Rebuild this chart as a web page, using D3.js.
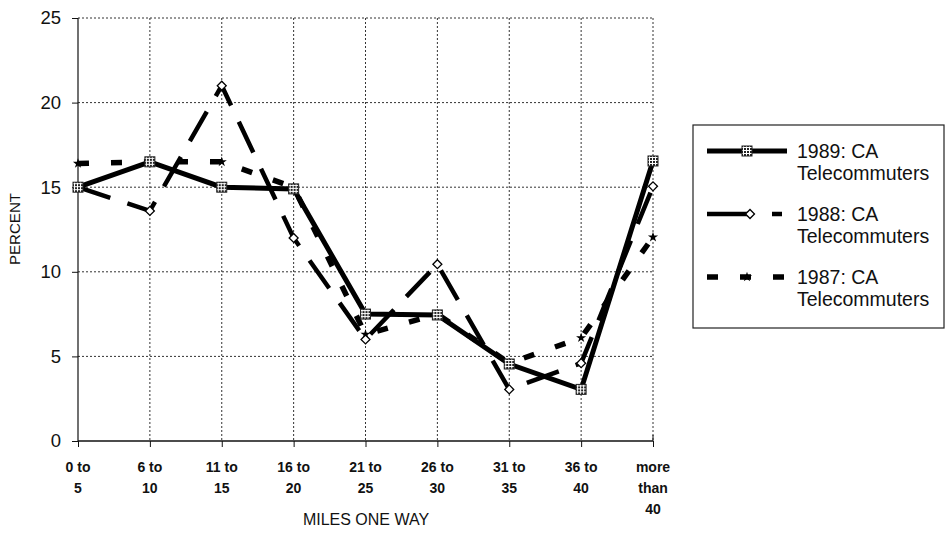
<!DOCTYPE html>
<html><head><meta charset="utf-8">
<script src="https://cdn.jsdelivr.net/npm/d3@7/dist/d3.min.js"></script>
<style>body{margin:0;background:#fff;}svg{display:block;}</style>
</head><body>
<svg id="c" width="947" height="540"></svg>
<script>
const categories = [["0 to","5"],["6 to","10"],["11 to","15"],["16 to","20"],["21 to","25"],["26 to","30"],["31 to","35"],["36 to","40"],["more","than","40"]];
const s1989 = [15, 16.5, 15, 14.9, 7.5, 7.45, 4.55, 3.05, 16.55];
const s1988 = [15, 13.6, 21, 12, 6, 10.45, 3.05, 4.6, 15.05];
const s1987 = [16.4, 16.5, 16.5, 15, 6.3, 7.5, 4.6, 6.1, 12.05];
const yTicks = [0, 5, 10, 15, 20, 25];
const seriesNames = ["1989: CA", "1988: CA", "1987: CA"];

const svg = d3.select("#c");
const defs = svg.append("defs");
const pat = defs.append("pattern").attr("id","hatch").attr("width",3).attr("height",3).attr("patternUnits","userSpaceOnUse");
pat.append("rect").attr("width",3).attr("height",3).attr("fill","#fff");
pat.append("rect").attr("width",2).attr("height",2).attr("fill","#222");

const idx = categories.map((d,i)=>i);
const x = d3.scalePoint().domain(idx).range([78, 653]);
const y = d3.scaleLinear().domain([0,25]).range([441, 18]);
const font = "Liberation Sans, Arial, sans-serif";

// grid
const g = svg.append("g");
g.selectAll(".hg").data(yTicks.filter(t=>t>0)).join("line")
  .attr("x1",78).attr("x2",653).attr("y1",d=>y(d)).attr("y2",d=>y(d))
  .attr("stroke","#333").attr("stroke-width",1).attr("stroke-dasharray","2,2");
g.selectAll(".vg").data(idx.slice(1)).join("line")
  .attr("x1",d=>x(d)).attr("x2",d=>x(d)).attr("y1",y(25)).attr("y2",y(0))
  .attr("stroke","#333").attr("stroke-width",1).attr("stroke-dasharray","2,2");

// axes
const yAxis = d3.axisLeft(y).tickValues(yTicks).tickSize(6).tickFormat(d3.format("d"));
const ya = svg.append("g").attr("transform","translate(78,0)").call(yAxis);
ya.select(".domain").attr("stroke","#111").attr("stroke-width",1.2).attr("d",`M0,${y(25)}V${y(0)}`);
ya.selectAll(".tick line").attr("stroke","#111");
ya.selectAll(".tick text").attr("font-family",font).attr("font-size",18.5).attr("fill","#111").attr("x",-17);

const xAxis = d3.axisBottom(x).tickSize(6).tickFormat("");
const xa = svg.append("g").attr("transform",`translate(0,${y(0)})`).call(xAxis);
xa.select(".domain").attr("stroke","#111").attr("stroke-width",1.4).attr("d","M78,0H653");
xa.selectAll(".tick line").attr("stroke","#111");
xa.append("line").attr("x1",653).attr("x2",653).attr("y1",-6).attr("y2",0).attr("stroke","#111");

// x labels
const lab = svg.append("g");
categories.forEach((lines,i)=>{
  const t = lab.append("text").attr("x",x(i)).attr("y",472).attr("text-anchor","middle")
    .attr("font-family",font).attr("font-size",14).attr("font-weight","bold").attr("fill","#111");
  lines.forEach((s,j)=>t.append("tspan").attr("x",x(i)).attr("dy",j?21:0).text(s));
});

svg.append("text").attr("x",366).attr("y",525).attr("text-anchor","middle")
  .attr("font-family",font).attr("font-size",16).attr("fill","#111").text("MILES ONE  WAY");
svg.append("text").attr("transform","translate(20,229) rotate(-90)").attr("text-anchor","middle")
  .attr("font-family",font).attr("font-size",15).attr("fill","#111")
  .attr("textLength",72).attr("lengthAdjust","spacingAndGlyphs").text("PERCENT");

// lines
const line = d3.line().x((d,i)=>x(i)).y(d=>y(d));
const styles = [
  {data:s1989, w:5, dash:null, ldash:null},
  {data:s1988, w:4.5, dash:"34,18", ldash:"43,22,10,100"},
  {data:s1987, w:5.5, dash:"11,22", ldash:"11,22"}
];
[2,1,0].forEach(k=>{
  const st = styles[k];
  svg.append("path").datum(st.data).attr("d",line).attr("fill","none")
    .attr("stroke","#000").attr("stroke-width",st.w)
    .attr("stroke-dasharray",st.dash).attr("stroke-linejoin","miter");
});

function marker(sel, k){
  if(k===0){
    sel.append("rect").attr("x",-5).attr("y",-5).attr("width",10).attr("height",10)
      .attr("fill","url(#hatch)").attr("stroke","#222").attr("stroke-width",1);
  } else if(k===1){
    sel.append("path").attr("d",d3.symbol(d3.symbolSquare, 40)())
      .attr("transform","rotate(45)").attr("fill","#fff").attr("stroke","#000").attr("stroke-width",1.3);
  } else {
    sel.append("path").attr("d",d3.symbol(d3.symbolStar, 32)()).attr("fill","#000");
  }
}
[2,1,0].forEach(k=>{
  styles[k].data.forEach((v,i)=>{
    const m = svg.append("g").attr("transform",`translate(${x(i)},${y(v)})`);
    marker(m,k);
  });
});

// legend
const lg = svg.append("g");
lg.append("rect").attr("x",693).attr("y",125).attr("width",251).attr("height",203)
  .attr("fill","#fff").attr("stroke","#222").attr("stroke-width",1.2);
const rowY = [151, 214, 277];
seriesNames.forEach((nm,k)=>{
  const st = styles[k];
  lg.append("line").attr("x1",707).attr("x2",787).attr("y1",rowY[k]).attr("y2",rowY[k])
    .attr("stroke","#000").attr("stroke-width",st.w).attr("stroke-dasharray",st.ldash);
  marker(lg.append("g").attr("transform",`translate(${k===1?750:747},${rowY[k]})`),k);
  const t = lg.append("text").attr("x",797).attr("y",rowY[k]+7).attr("font-family",font)
    .attr("font-size",19.5).attr("fill","#111");
  t.append("tspan").attr("x",797).text(nm);
  t.append("tspan").attr("x",797).attr("dy",22).text("Telecommuters");
});
</script>
</body></html>
